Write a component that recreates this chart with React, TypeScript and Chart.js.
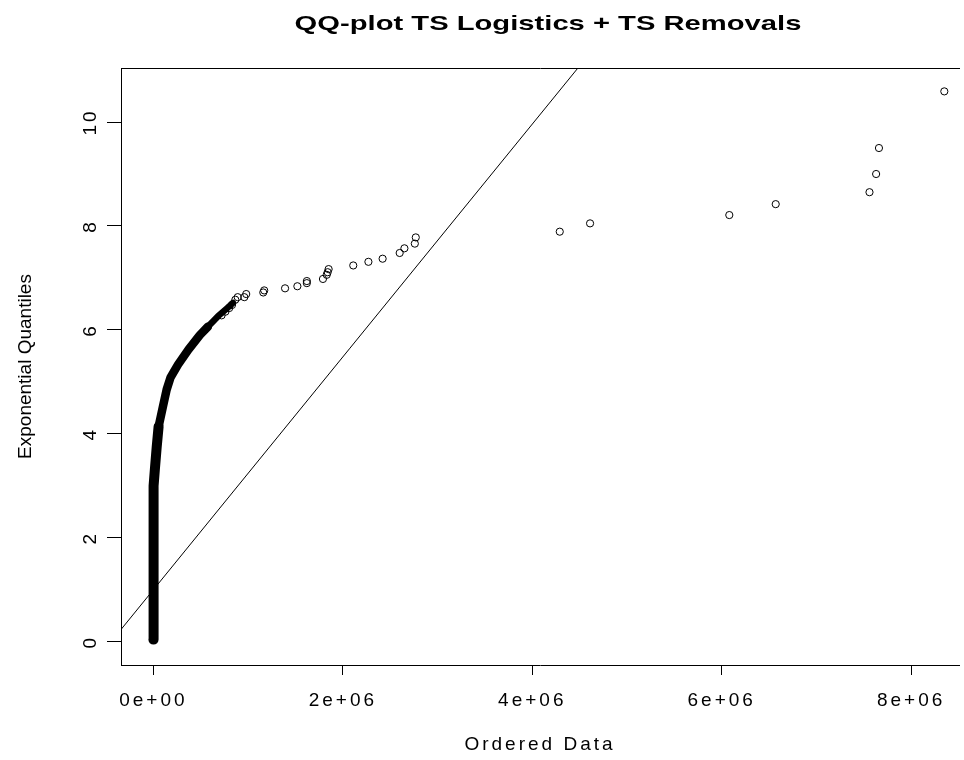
import React, { useEffect, useRef } from 'react';
import { Chart, registerables } from 'chart.js';

Chart.register(...registerables);

const CHART_TITLE = 'QQ-plot TS Logistics + TS Removals';
const X_TITLE = 'Ordered Data';
const Y_TITLE = 'Exponential Quantiles';

const xTickValues = [0, 2e6, 4e6, 6e6, 8e6];
const xTickLabels = ['0e+00', '2e+06', '4e+06', '6e+06', '8e+06'];
const yTickValues = [0, 2, 4, 6, 8, 10];
const yTickLabels = ['0', '2', '4', '6', '8', '10'];

const xRange = [-0.342e6, 8.505e6];
const yRange = [-0.449, 11.04];

// dense part of the sample: centre line of the solid black band
const denseLowX = [0, 0, 0.004e6, 0.015e6, 0.035e6, 0.055e6];
const denseLowY = [0.04, 2.6, 3.0, 3.3, 3.75, 4.14];
const denseMidX = [0.055e6, 0.1e6, 0.14e6, 0.18e6, 0.26e6, 0.37e6, 0.49e6, 0.575e6];
const denseMidY = [4.14, 4.52, 4.85, 5.08, 5.33, 5.62, 5.9, 6.06];
const denseTopX = [0.575e6, 0.68e6, 0.78e6, 0.84e6];
const denseTopY = [6.06, 6.26, 6.42, 6.52];

// individually visible points
const pointX = [0.72e6, 0.76e6, 0.8e6, 0.83e6, 0.865e6, 0.89e6, 0.96e6, 0.98e6, 1.16e6, 1.17e6, 1.39e6, 1.52e6, 1.62e6, 1.62e6, 1.79e6, 1.83e6, 1.84e6, 1.85e6, 2.11e6, 2.27e6, 2.42e6, 2.6e6, 2.65e6, 2.76e6, 2.77e6, 4.29e6, 4.61e6, 6.08e6, 6.57e6, 7.56e6, 7.63e6, 7.66e6, 8.35e6];
const pointY = [6.28, 6.35, 6.42, 6.48, 6.58, 6.63, 6.63, 6.69, 6.72, 6.76, 6.8, 6.84, 6.9, 6.94, 6.98, 7.06, 7.11, 7.17, 7.24, 7.31, 7.37, 7.48, 7.57, 7.66, 7.78, 7.89, 8.05, 8.21, 8.42, 8.65, 9.0, 9.5, 10.59];

// reference line endpoints
const refLineX = [-0.5e6, 5.0e6];
const refLineY = [-0.12, 12.2];

const FONT = "'Liberation Sans', Arial, sans-serif";
const TITLE_CENTER_X = 548;
const TITLE_CENTER_Y = 24;

const toXY = (xs: number[], ys: number[]) => xs.map((x, i) => ({ x, y: ys[i] }));

const spacingPlugin = {
  id: 'rSpacing',
  beforeDraw(chart: any) {
    chart.ctx.letterSpacing = '3px';
  },
  afterDatasetsDraw(chart: any) {
    chart.ctx.letterSpacing = '0px';
  },
  afterDraw(chart: any) {
    chart.ctx.letterSpacing = '0px';
  },
};

const titlePlugin = {
  id: 'rTitle',
  afterDraw(chart: any) {
    const { ctx } = chart;
    ctx.save();
    ctx.letterSpacing = '0px';
    ctx.font = `bold 21px ${FONT}`;
    ctx.fillStyle = '#000';
    ctx.textAlign = 'center';
    ctx.textBaseline = 'middle';
    ctx.translate(TITLE_CENTER_X, TITLE_CENTER_Y);
    ctx.scale(1.39, 1);
    ctx.fillText(CHART_TITLE, 0, 0);
    ctx.restore();
  },
};

export default function App() {
  const ref = useRef<HTMLCanvasElement>(null);

  useEffect(() => {
    const canvas = ref.current;
    if (!canvas) return;
    const bandStyle = {
      showLine: true,
      borderColor: '#000',
      pointRadius: 0,
      pointHoverRadius: 0,
      borderCapStyle: 'round',
      borderJoinStyle: 'round',
      tension: 0,
      fill: false,
    };
    const chart = new Chart(canvas, {
      type: 'scatter',
      data: {
        datasets: [
          {
            data: toXY(pointX, pointY),
            pointStyle: 'circle',
            pointRadius: 3.6,
            pointBorderWidth: 1,
            borderColor: '#000',
            backgroundColor: 'rgba(0,0,0,0)',
            showLine: false,
          },
          { ...bandStyle, data: toXY(denseLowX, denseLowY), borderWidth: 10 } as any,
          { ...bandStyle, data: toXY(denseMidX, denseMidY), borderWidth: 8.5 } as any,
          { ...bandStyle, data: toXY(denseTopX, denseTopY), borderWidth: 6.5 } as any,
          {
            data: toXY(refLineX, refLineY),
            showLine: true,
            borderColor: '#000',
            borderWidth: 1,
            pointRadius: 0,
            pointHoverRadius: 0,
            fill: false,
          },
        ],
      },
      options: {
        responsive: false,
        animation: false,
        events: [],
        layout: { padding: { top: 68, right: 0, bottom: 0, left: 0 } },
        plugins: {
          legend: { display: false },
          tooltip: { enabled: false },
          title: { display: false },
        },
        scales: {
          x: {
            type: 'linear',
            position: 'bottom',
            min: xRange[0],
            max: xRange[1],
            afterBuildTicks: (s: any) => {
              s.ticks = xTickValues.map((v) => ({ value: v }));
            },
            afterFit: (s: any) => {
              s.height = 95;
            },
            ticks: {
              autoSkip: false,
              minRotation: 0,
              maxRotation: 0,
              padding: 14,
              color: '#000',
              font: { family: FONT, size: 19 },
              callback: (v: any) => {
                const i = xTickValues.indexOf(v);
                return i >= 0 ? xTickLabels[i] : '';
              },
            },
            grid: {
              display: true,
              drawOnChartArea: false,
              drawTicks: true,
              tickLength: 10,
              color: '#000',
              tickColor: '#000',
              lineWidth: 1,
            },
            border: { display: true, color: '#000', width: 1 },
            title: {
              display: true,
              text: X_TITLE,
              color: '#000',
              font: { family: FONT, size: 19 },
              padding: { top: 0, bottom: 4 },
            },
          },
          x2: {
            type: 'linear',
            position: 'top',
            min: xRange[0],
            max: xRange[1],
            afterFit: (s: any) => {
              s.height = 0;
            },
            ticks: { display: false },
            grid: { display: false, drawTicks: false },
            border: { display: true, color: '#000', width: 1 },
          },
          y: {
            type: 'linear',
            position: 'left',
            min: yRange[0],
            max: yRange[1],
            afterBuildTicks: (s: any) => {
              s.ticks = yTickValues.map((v) => ({ value: v }));
            },
            afterFit: (s: any) => {
              s.width = 121;
            },
            ticks: {
              autoSkip: false,
              minRotation: 90,
              maxRotation: 90,
              crossAlign: 'center',
              padding: 6,
              color: '#000',
              font: { family: FONT, size: 19 },
              callback: (v: any) => {
                const i = yTickValues.indexOf(v);
                return i >= 0 ? yTickLabels[i] : '';
              },
            },
            grid: {
              display: true,
              z: 1,
              drawOnChartArea: false,
              drawTicks: true,
              tickLength: 14,
              color: '#000',
              tickColor: '#000',
              lineWidth: 1,
            },
            border: { display: true, color: '#000', width: 1, z: 1 },
            title: {
              display: true,
              text: Y_TITLE,
              color: '#000',
              font: { family: FONT, size: 19 },
              padding: { top: 14, bottom: 0 },
            },
          },
        },
      } as any,
      plugins: [spacingPlugin, titlePlugin],
    });
    return () => chart.destroy();
  }, []);

  return (
    <div style={{ position: 'absolute', left: 0, top: 0, width: 964, height: 760, background: '#fff' }}>
      <canvas ref={ref} width={964} height={760} style={{ display: 'block', width: 964, height: 760 }} />
    </div>
  );
}
